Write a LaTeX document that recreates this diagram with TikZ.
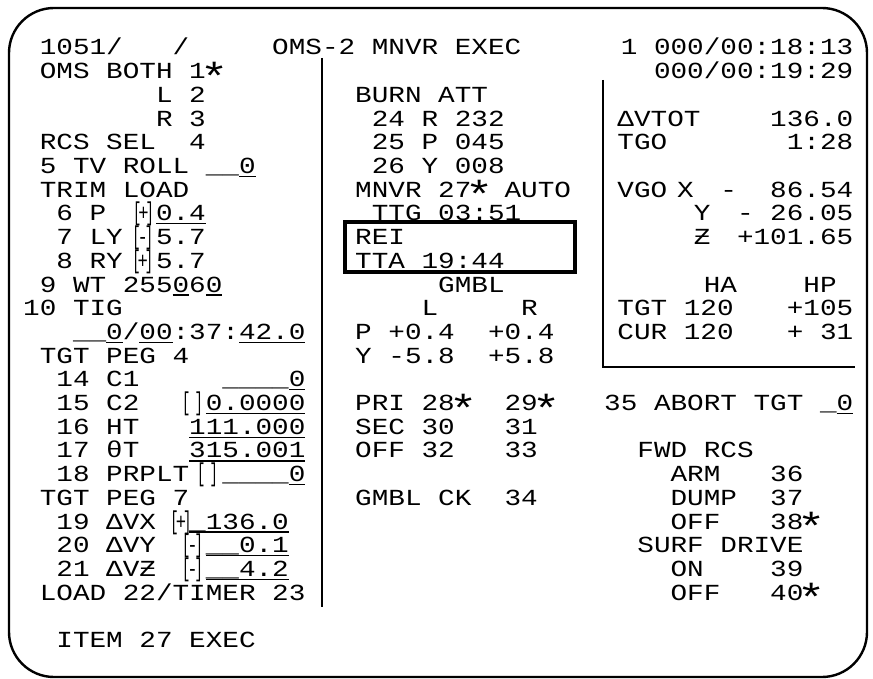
\documentclass[tikz,border=0pt]{standalone}
\usepackage{fontspec}
\usepackage{graphicx}
\newfontfamily\dispfont[FakeStretch=1.203]{Liberation Mono}
% underlined entry field, sign bracket squeezed into one cell, display asterisk
\newcommand\fld[1]{\setbox0\hbox{#1}\rlap{\rule[-3.6pt]{\wd0}{1.3pt}}\box0\relax}
\newcommand\brk[1]{\makebox[16.6pt][c]{\raisebox{0pt}[15pt][2pt]{\scalebox{0.5}[1.12]{[}\kern-3pt
  \scalebox{0.62}[1]{#1}\kern-3pt\scalebox{0.5}[1.12]{]}}}}
\newcommand\astk{\makebox[16.6pt][c]{\raisebox{-11.5pt}[15pt][0pt]{\scalebox{1.7}{*}}}}
\tikzset{
  txt/.style={anchor=base west, inner sep=0pt,
    font=\dispfont\fontsize{23pt}{24pt}\selectfont},
  frame/.style={line width=2.4pt, rounded corners=45pt},
  divider/.style={line width=1.6pt},
  reibox/.style={line width=3.2pt}
}
\begin{document}
\begin{tikzpicture}[x=1pt,y=-1pt]
  \useasboundingbox (0,0) rectangle (873,679);
  % screen outline and rules
  \draw[frame] (9,8) rectangle (867,677);
  \draw[divider] (322,58) -- (322,607);
  \draw[divider] (603,80) -- (603,367) -- (855,367);
  \draw[reibox] (345,222) rectangle (575,272);
  \begin{scope}[shift={(23,55)},x=16.6pt,y=-23.7pt]
    % header
    \node[txt] (A0_1) at (1,0) {1051/};
    \node[txt] (A0_9) at (9,0) {/};
    \node[txt] (A0_15) at (15,0) {OMS-2 MNVR EXEC};
    \node[txt] (A0_36) at (36,0) {1 000/00:18:13};
    \node[txt] (A1_38) at (38,1) {000/00:19:29};
    % left column
    \node[txt] (A1_1) at (1,1) {OMS BOTH 1\astk};
    \node[txt] (A2_8) at (8,2) {L 2};
    \node[txt] (A3_8) at (8,3) {R 3};
    \node[txt] (A4_1) at (1,4) {RCS SEL};
    \node[txt] (A4_10) at (10,4) {4};
    \node[txt] (A5_1) at (1,5) {5 TV ROLL};
    \node[txt] (A5_11) at (11,5) {\_\_\fld{0}};
    \node[txt] (A6_1) at (1,6) {TRIM LOAD};
    \node[txt] (A7_2) at (2,7) {6 P};
    \node[txt] (A7_7) at (6.75,7) {\brk{+}};
    \node[txt] (A7_8) at (8,7) {\fld{0.4}};
    \node[txt] (A8_2) at (2,8) {7 LY};
    \node[txt] (A8_7) at (6.7,8) {\brk{-}};
    \node[txt] (A8_8) at (8,8) {5.7};
    \node[txt] (A9_2) at (2,9) {8 RY};
    \node[txt] (A9_7) at (6.7,9) {\brk{+}};
    \node[txt] (A9_8) at (8,9) {5.7};
    \node[txt] (A10_1) at (1,10) {9 WT 255\fld{0}6\fld{0}};
    \node[txt] (A11_0) at (0,11) {10 TIG};
    \node[txt] (A12_3) at (3,12) {\_\_\fld{0}/\fld{00}:37:\fld{42.0}};
    \node[txt] (A13_1) at (1,13) {TGT PEG 4};
    \node[txt] (A14_2) at (2,14) {14 C1};
    \node[txt] (A14_12) at (12,14) {\_\_\_\_\fld{0}};
    \node[txt] (A15_2) at (2,15) {15 C2};
    \node[txt] (A15_10) at (9.7,15) {\brk{\ }};
    \node[txt] (A15_11) at (11,15) {\fld{0.0000}};
    \node[txt] (A16_2) at (2,16) {16 HT};
    \node[txt] (A16_10) at (10,16) {\fld{111.000}};
    \node[txt] (A17_2) at (2,17) {17 θT};
    \node[txt] (A17_10) at (10,17) {\fld{315.001}};
    \node[txt] (A18_2) at (2,18) {18 PRPLT};
    \node[txt] (A18_11) at (10.6,18) {\brk{\ }};
    \node[txt] (A18_12) at (12,18) {\_\_\_\_\fld{0}};
    \node[txt] (A19_1) at (1,19) {TGT PEG 7};
    \node[txt] (A20_2) at (2,20) {19 ΔVX};
    \node[txt] (A20_9) at (9,20) {\brk{+}};
    \node[txt] (A20_10) at (10,20) {\fld{\_136.0}};
    \node[txt] (A21_2) at (2,21) {20 ΔVY};
    \node[txt] (A21_10) at (9.7,21) {\brk{-}};
    \node[txt] (A21_11) at (11,21) {\fld{\_\_0.1}};
    \node[txt] (A22_2) at (2,22) {21 ΔVƵ};
    \node[txt] (A22_10) at (9.7,22) {\brk{-}};
    \node[txt] (A22_11) at (11,22) {\fld{\_\_4.2}};
    \node[txt] (A23_1) at (1,23) {LOAD 22/TIMER 23};
    \node[txt] (A25_2) at (2,25) {ITEM 27 EXEC};
    % middle column
    \node[txt] (A2_20) at (20,2) {BURN ATT};
    \node[txt] (A3_21) at (21,3) {24 R 232};
    \node[txt] (A4_21) at (21,4) {25 P 045};
    \node[txt] (A5_21) at (21,5) {26 Y 008};
    \node[txt] (A6_20) at (20,6) {MNVR 27\astk{} AUTO};
    \node[txt] (A7_21) at (21,7) {TTG 03:51};
    \node[txt] (A8_20) at (20,8) {REI};
    \node[txt] (A9_20) at (20,9) {TTA 19:44};
    \node[txt] (A10_25) at (25,10) {GMBL};
    \node[txt] (A11_24) at (24,11) {L};
    \node[txt] (A11_30) at (30,11) {R};
    \node[txt] (A12_20) at (20,12) {P +0.4};
    \node[txt] (A12_28) at (28,12) {+0.4};
    \node[txt] (A13_20) at (20,13) {Y -5.8};
    \node[txt] (A13_28) at (28,13) {+5.8};
    \node[txt] (A15_20) at (20,15) {PRI 28\astk};
    \node[txt] (A15_29) at (29,15) {29\astk};
    \node[txt] (A16_20) at (20,16) {SEC 30};
    \node[txt] (A16_29) at (29,16) {31};
    \node[txt] (A17_20) at (20,17) {OFF 32};
    \node[txt] (A17_29) at (29,17) {33};
    \node[txt] (A19_20) at (20,19) {GMBL CK};
    \node[txt] (A19_29) at (29,19) {34};
    % right column
    \node[txt] (A3_36) at (35.8,3) {ΔVTOT};
    \node[txt] (A3_45) at (45,3) {136.0};
    \node[txt] (A4_36) at (35.8,4) {TGO};
    \node[txt] (A4_46) at (46,4) {1:28};
    \node[txt] (A6_36) at (35.8,6) {VGO};
    \node[txt] (A6_39) at (39.4,6) {X};
    \node[txt] (A6_42) at (42,6) {-};
    \node[txt] (A6_45) at (45,6) {86.54};
    \node[txt] (A7_40) at (40.4,7) {Y};
    \node[txt] (A7_43) at (43,7) {- 26.05};
    \node[txt] (A8_40) at (40.4,8) {Ƶ};
    \node[txt] (A8_43) at (43,8) {+101.65};
    \node[txt] (A10_41) at (41,10) {HA};
    \node[txt] (A10_47) at (47,10) {HP};
    \node[txt] (A11_36) at (35.8,11) {TGT 120};
    \node[txt] (A11_46) at (46,11) {+105};
    \node[txt] (A12_36) at (35.8,12) {CUR 120};
    \node[txt] (A12_46) at (46,12) {+ 31};
    \node[txt] (A15_35) at (35,15) {35 ABORT TGT \_\fld{0}};
    \node[txt] (A17_37) at (37,17) {FWD RCS};
    \node[txt] (A18_39) at (39,18) {ARM};
    \node[txt] (A18_45) at (45,18) {36};
    \node[txt] (A19_39) at (39,19) {DUMP};
    \node[txt] (A19_45) at (45,19) {37};
    \node[txt] (A20_39) at (39,20) {OFF};
    \node[txt] (A20_45) at (45,20) {38\astk};
    \node[txt] (A21_37) at (37,21) {SURF DRIVE};
    \node[txt] (A22_39) at (39,22) {ON};
    \node[txt] (A22_45) at (45,22) {39};
    \node[txt] (A23_39) at (39,23) {OFF};
    \node[txt] (A23_45) at (45,23) {40\astk};
  \end{scope}
\end{tikzpicture}
\end{document}
